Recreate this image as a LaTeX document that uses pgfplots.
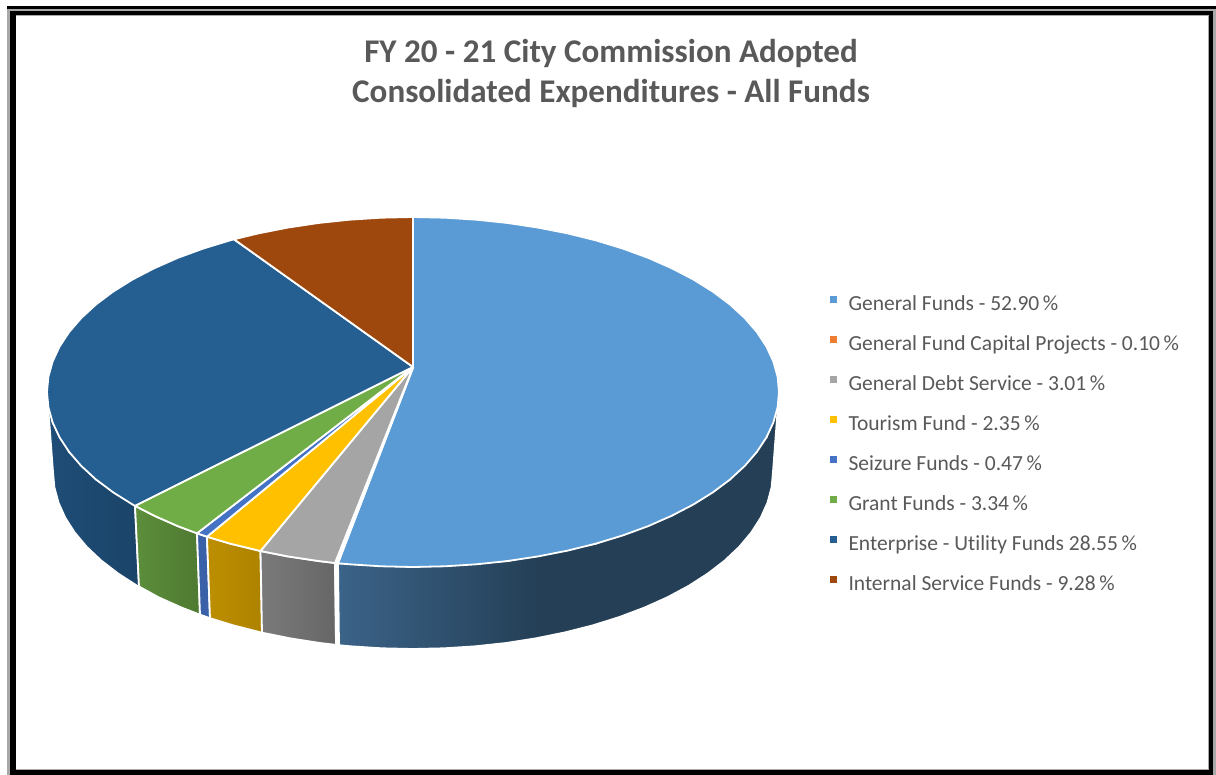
\documentclass[border=0pt]{standalone}
\usepackage{fontspec}
\setmainfont{Carlito}[Ligatures=NoCommon]
\usepackage{pgfplots}
\pgfplotsset{compat=1.18}
\definecolor{txtgray}{HTML}{595959}
\definecolor{cGen}{HTML}{5B9BD5}
\definecolor{cCap}{HTML}{ED7D31}
\definecolor{cDebt}{HTML}{A5A5A5}
\definecolor{cTour}{HTML}{FFC000}
\definecolor{cSeiz}{HTML}{4472C4}
\definecolor{cGrant}{HTML}{70AD47}
\definecolor{cEnt}{HTML}{255E91}
\definecolor{cInt}{HTML}{9E480E}
\definecolor{gfa}{HTML}{3B6388}
\definecolor{gfb}{HTML}{243F56}
\pgfdeclarehorizontalshading{gfside}{100bp}{color(0bp)=(gfa); color(25bp)=(gfa); color(47.9bp)=(gfb); color(100bp)=(gfb)}

\begin{document}
\begin{tikzpicture}
\begin{axis}[
  scale only axis, width=1216pt, height=775pt,
  xmin=0, xmax=1216, ymin=0, ymax=775, y dir=reverse,
  hide axis, clip=false,
  legend cell align=left,
  legend image code/.code={\fill[#1,draw=none] (0pt,2.5pt) rectangle (7pt,9.5pt);\path (17pt,0pt);},
  legend style={at={(axis cs:830,296)}, anchor=north west, draw=none, fill=none,
    inner sep=0pt, row sep=21.4pt, text=txtgray,
    font=\fontsize{21.5}{24}\selectfont,
    nodes={inner sep=0pt, text height=14pt, text depth=4pt}},
  wedge/.style={draw=white, line width=1.8pt, line join=round},
  rim/.style={draw=white, line width=1.8pt, line join=round, forget plot},
]
% page extent, the axis itself is hidden
\path (axis cs:0,0) rectangle (axis cs:1216,775);
% frame
\fill[black] (axis cs:7,6) rectangle (axis cs:1216,775);
\fill[black!34] (axis cs:7,9) rectangle (axis cs:1216,775);
\fill[black] (axis cs:10,11) rectangle (axis cs:1213,775);
\fill[black!34] (axis cs:15.5,15.5) rectangle (axis cs:1208.5,769.5);
\fill[white] (axis cs:16,16) rectangle (axis cs:1208,769);

% side of the pie
\addplot[rim, left color=cEnt!82!black, right color=cEnt!72!black] coordinates {
 (47,392)(52.6,422.4)(69.1,451.9)(96,479.5)(135,505.8)(139,586)
 (137.2,585.8)(118.1,573.5)(101.2,560.5)(86.7,546.8)(74.7,532.5)(65.3,517.8)(58.5,502.7)(54.4,487.4)(53,472)
} --cycle;
\addplot[rim, left color=cGrant!82!black, right color=cGrant!70!black] coordinates {
 (135,505.8)(154.2,515.7)(177.7,526.1)(197,533.3)(200,614.7)(181.6,607.6)(158.4,597.2)(139,586.5)
} --cycle;
\addplot[rim, fill=cSeiz!85!black] coordinates {(197,533.3)(207,536.7)(210,618.2)(200,614.7)} --cycle;
\addplot[rim, left color=cTour!74!black, right color=cTour!68!black] coordinates {
 (207,536.7)(230,543.6)(260.5,551)(262,632.7)(233,625.3)(210,618.2)
} --cycle;
\addplot[rim, left color=cDebt!74!black, right color=cDebt!62!black] coordinates {
 (260.5,551)(287.8,556.4)(318.3,561)(335,563)(336,644.9)(319.8,643)(289.9,638.3)(262,632.7)
} --cycle;
\addplot[rim, fill=cCap, line width=2.6pt] coordinates {(335.5,563)(337.5,563.3)(338.5,645.2)(336.5,644.9)} --cycle;
\addplot[rim, shading=gfside] coordinates {
 (338,563.3)(413,567)(507.7,561)(596,543.6)(671.8,515.7)(730,479.5)(766.5,437.3)(779,392)(773,472)
 (771.6,487.4)(767.5,502.7)(760.7,517.8)(751.3,532.5)(739.3,546.8)(724.8,560.5)(707.9,573.5)(688.8,585.8)
 (667.6,597.2)(644.4,607.6)(619.5,617)(593,625.3)(565.1,632.4)(536.1,638.3)(506.2,643)(475.5,646.3)
 (444.4,648.3)(413,649)(381.6,648.3)(350.5,646.3)(339,645.2)
} --cycle;

% top of the pie
\addplot[wedge, fill=cGen] coordinates {
 (413,367)(413,217)(444.9,217.7)(476.5,219.7)(507.7,223)(538.2,227.6)(567.7,233.4)(596,240.4)(622.9,248.6)
 (648.3,257.9)(671.8,268.3)(693.4,279.5)(712.8,291.6)(730,304.5)(744.7,318)(756.9,332.1)(766.5,346.7)
 (773.4,361.6)(777.6,376.7)(779,392)(777.6,407.3)(773.4,422.4)(766.5,437.3)(756.9,451.9)(744.7,466)
 (730,479.5)(712.8,492.4)(693.4,504.5)(671.8,515.7)(648.3,526.1)(622.9,535.4)(596,543.6)(567.7,550.6)
 (538.2,556.4)(507.7,561)(476.5,564.3)(444.9,566.3)(413,567)(381.1,566.3)(349.5,564.3)(338,563.3)
} --cycle;
\addlegendentry{General Funds - 52.90\,\%}
\addplot[wedge, fill=cCap, line width=2.6pt] coordinates {(413,367)(337.5,563.3)(336,563)} --cycle;
\addlegendentry{General Fund Capital Projects - 0.10\,\%}
\addplot[wedge, fill=cDebt] coordinates {(413,367)(335,563)(318.3,561)(287.8,556.4)(260.5,551)} --cycle;
\addlegendentry{General Debt Service - 3.01\,\%}
\addplot[wedge, fill=cTour] coordinates {(413,367)(260.5,551)(230,543.6)(207,536.7)} --cycle;
\addlegendentry{Tourism Fund - 2.35\,\%}
\addplot[wedge, fill=cSeiz] coordinates {(413,367)(207,536.7)(197,533.3)} --cycle;
\addlegendentry{Seizure Funds - 0.47\,\%}
\addplot[wedge, fill=cGrant] coordinates {(413,367)(197,533.3)(177.7,526.1)(154.2,515.7)(135,505.8)} --cycle;
\addlegendentry{Grant Funds - 3.34\,\%}
\addplot[wedge, fill=cEnt] coordinates {
 (413,367)(135,505.8)(132.6,504.5)(113.2,492.4)(96,479.5)(81.3,466)(69.1,451.9)(59.5,437.3)(52.6,422.4)
 (48.4,407.3)(47,392)(48.4,376.7)(52.6,361.6)(59.5,346.7)(69.1,332.1)(81.3,318)(96,304.5)(113.2,291.6)
 (132.6,279.5)(154.2,268.3)(177.7,257.9)(203.1,248.6)(230,240.4)(234,239.3)
} --cycle;
\addlegendentry{Enterprise - Utility Funds 28.55\,\%}
\addplot[wedge, fill=cInt] coordinates {
 (413,367)(234,239.3)(258.3,233.4)(287.8,227.6)(318.3,223)(349.5,219.7)(381.1,217.7)(413,217)
} --cycle;
\addlegendentry{Internal Service Funds - 9.28\,\%}

\node[text=txtgray, align=center, font=\fontsize{33.1}{40}\selectfont\bfseries, anchor=center]
  at (axis cs:611,73) {FY 20 - 21 City Commission Adopted\\Consolidated Expenditures - All Funds};
\end{axis}
\end{tikzpicture}
\end{document}
